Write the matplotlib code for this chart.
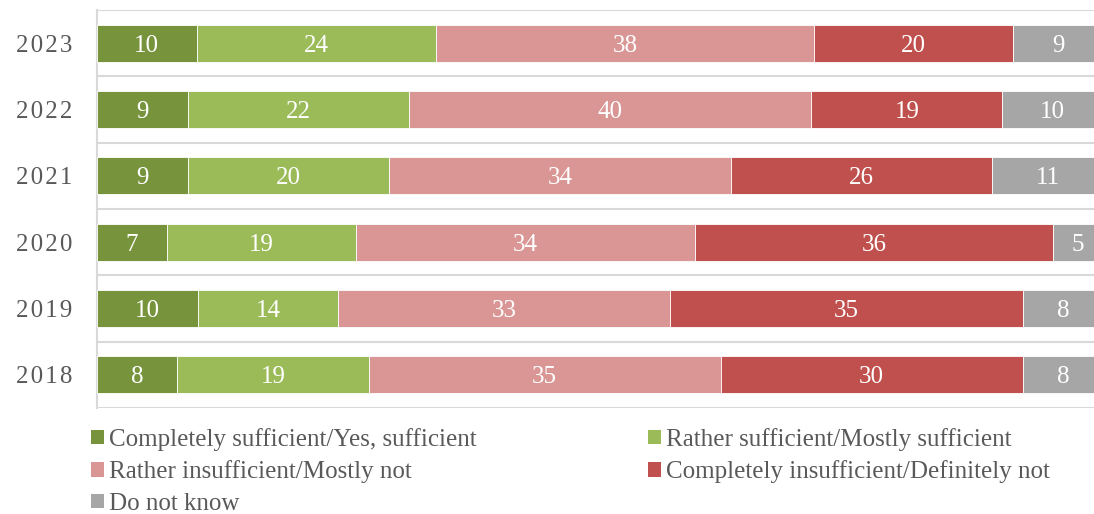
import matplotlib
matplotlib.use("Agg")
import matplotlib.pyplot as plt
from matplotlib.patches import Patch

years = ["2023", "2022", "2021", "2020", "2019", "2018"]
series_names = [
    "Completely sufficient/Yes, sufficient",
    "Rather sufficient/Mostly sufficient",
    "Rather insufficient/Mostly not",
    "Completely insufficient/Definitely not",
    "Do not know",
]
completely_sufficient = [10, 9, 9, 7, 10, 8]
rather_sufficient = [24, 22, 20, 19, 14, 19]
rather_insufficient = [38, 40, 34, 34, 33, 35]
completely_insufficient = [20, 19, 26, 36, 35, 30]
do_not_know = [9, 10, 11, 5, 8, 8]
colors = ["#77933C", "#9BBB59", "#D99694", "#C0504D", "#A6A6A6"]

plt.rcParams["font.family"] = ["Liberation Serif", "DejaVu Serif"]

fig = plt.figure(figsize=(10.94, 5.14), dpi=100)
ax = fig.add_axes([97 / 1094, 1 - 408 / 514, (1103 - 97) / 1094, (408 - 10) / 514])

all_series = [completely_sufficient, rather_sufficient, rather_insufficient,
              completely_insufficient, do_not_know]
# 100% stacked: each row normalised to its total
totals = [sum(vals) for vals in zip(*all_series)]
ypos = list(range(len(years)))[::-1]
left = [0.0] * len(years)
for vals, col in zip(all_series, colors):
    widths = [v / t * 100 for v, t in zip(vals, totals)]
    ax.barh(ypos, widths, left=left, height=0.56, color=col,
            edgecolor="white", linewidth=0.6, zorder=3)
    for y, l, w, v in zip(ypos, left, widths, vals):
        ax.text(l + w / 2, y, str(v), ha="center", va="center_baseline",
                color="white", fontsize=18, zorder=4, clip_on=False)
    left = [a + b for a, b in zip(left, widths)]

ax.set_xlim(0, 100)
ax.set_ylim(-0.5, len(years) - 0.5)
ax.set_yticks(ypos)
ax.set_yticklabels(["\u200a".join(y) for y in years], fontsize=18, color="#595959")
ax.tick_params(axis="y", length=0, pad=18)
ax.set_xticks([])
for b in [i - 0.5 for i in range(len(years) + 1)]:
    ax.axhline(b, color="#D9D9D9", linewidth=1.5, zorder=1)
for s in ["top", "right", "bottom"]:
    ax.spines[s].set_visible(False)
ax.spines["left"].set_color("#D9D9D9")
ax.spines["left"].set_linewidth(1.5)

handles = [Patch(facecolor=c, edgecolor="none") for c in colors]
order = [0, 2, 4, 1, 3]
leg = fig.legend([handles[i] for i in order], [series_names[i] for i in order],
                 ncol=2, loc="upper left", bbox_to_anchor=(91 / 1094, 1 - 428 / 514),
                 frameon=False, fontsize=18, handlelength=0.52, handleheight=0.52,
                 handletextpad=0.2, columnspacing=6.86, labelspacing=0.38,
                 borderaxespad=0, borderpad=0)
for t in leg.get_texts():
    t.set_color("#595959")

fig.savefig("out.png", dpi=100)
